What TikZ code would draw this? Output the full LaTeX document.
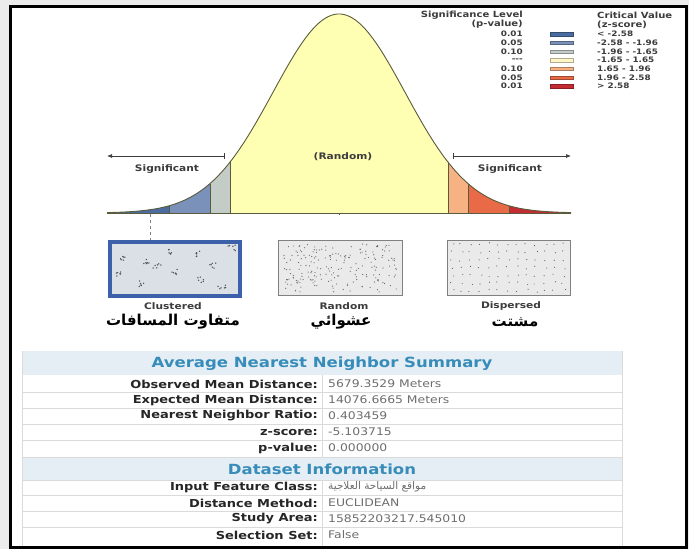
\documentclass[tikz,border=0pt]{standalone}
\usepackage{fontspec}
\setmainfont{DejaVu Sans}[FakeStretch=1.18]
\newfontfamily\arabicfont[Script=Arabic]{DejaVu Sans}
\TeXXeTstate=1
\usetikzlibrary{arrows.meta}

\definecolor{bellyellow}{RGB}{255,255,180}
\definecolor{sigblueA}{RGB}{74,108,160}
\definecolor{sigblueB}{RGB}{122,146,186}
\definecolor{sigblueC}{RGB}{196,204,200}
\definecolor{sigredC}{RGB}{246,178,130}
\definecolor{sigredB}{RGB}{232,106,70}
\definecolor{sigredA}{RGB}{196,44,52}
\definecolor{paleyellow}{RGB}{255,246,200}
\definecolor{curvegray}{RGB}{90,90,60}
\definecolor{headblue}{RGB}{228,238,244}
\definecolor{headtext}{RGB}{55,140,185}
\definecolor{valgray}{RGB}{110,110,110}
\definecolor{labgray}{RGB}{60,60,60}
\definecolor{linegray}{RGB}{218,218,218}
\definecolor{outergray}{RGB}{236,236,236}
\definecolor{clublue}{RGB}{60,96,170}
\definecolor{clufill}{RGB}{218,224,230}
\definecolor{boxgray}{RGB}{234,234,234}

\tikzset{
  curveline/.style={draw=curvegray, line width=0.9pt},
  smalllabel/.style={font=\bfseries\fontsize{9}{10}\selectfont, text=labgray, inner sep=0pt},
  legendtext/.style={font=\bfseries\fontsize{8.5}{9}\selectfont, text=labgray, inner sep=0pt},
  legendrow/.style={font=\bfseries\fontsize{7.5}{8}\selectfont, text=labgray, inner sep=0pt},
  arabiclabel/.style={font=\arabicfont\bfseries\fontsize{15}{17}\selectfont, inner sep=0pt},
  pattbox/.style={draw=gray, fill=boxgray, line width=1pt,
    minimum width=124pt, minimum height=55pt, inner sep=0pt},
  headrow/.style={font=\bfseries\fontsize{14}{16}\selectfont, text=headtext, inner sep=0pt},
  rowlabel/.style={font=\bfseries\fontsize{11}{13}\selectfont, text=black!85, anchor=east, inner sep=0pt},
  rowvalue/.style={font=\fontsize{10.5}{12}\selectfont, text=valgray, anchor=west, inner sep=0pt}
}

\begin{document}
\begin{tikzpicture}[x=1pt,y=-1pt,
  declare function={bell(\x)=213-199*exp(-0.5*((\x-339)/66)*((\x-339)/66));}]

\useasboundingbox (0,0) rectangle (689,549);
\fill[outergray] (0,0) rectangle (689,549);
\fill[white] (10,6) rectangle (686,547);

% Bell curve
\foreach \a/\b/\c in {107/169/sigblueA, 169/210/sigblueB, 210/230/sigblueC,
    230/448/bellyellow, 448/468/sigredC, 468/509/sigredB, 509/571/sigredA}
  \fill[\c] plot[domain=\a:\b, samples=40] (\x,{bell(\x)}) |- (\a,213) -- cycle;
\foreach \b in {169,210,468,509}
  \draw[curveline, line width=0.5pt] (\b,213) -- (\b,{bell(\b)});
\foreach \b in {230,448}
  \draw[curveline] (\b,213) -- (\b,{bell(\b)});
\draw[curveline] plot[domain=107:571, samples=150] (\x,{bell(\x)});
\coordinate (base-l) at (107,213);
\coordinate (base-r) at (571,213);
\draw[curveline] (base-l) -- (base-r);
\coordinate (mid) at (339,213);
\draw[curveline, line width=0.5pt] (mid) -- ++(0,2);

% Significant arrows
\coordinate (sigL-tip) at (107,156);
\coordinate (sigL-bar) at (225,156);
\coordinate (sigR-bar) at (453,156);
\coordinate (sigR-tip) at (571,156);
\draw[labgray, line width=0.7pt, {Latex[length=5pt,width=4pt]}-{Bar[width=6pt]}] (sigL-tip) -- (sigL-bar);
\draw[labgray, line width=0.7pt, {Bar[width=6pt]}-{Latex[length=5pt,width=4pt]}] (sigR-bar) -- (sigR-tip);
\node[smalllabel] (sigL) at (167,169) {Significant};
\node[smalllabel] (sigR) at (510,169) {Significant};
\node[smalllabel] (rnd) at (343,157) {(Random)};

% Legend
\node[legendtext, anchor=east] (lvl) at (523,15) {Significance Level};
\node[legendtext, anchor=east] (pval) at (523,24.5) {(p-value)};
\node[legendtext, anchor=west] (crit) at (597,15) {Critical Value};
\node[legendtext, anchor=west] (zsc) at (597,24.5) {(z-score)};
\foreach \p/\z/\c [count=\i from 0] in {0.01/{< -2.58}/sigblueA, 0.05/{-2.58 - -1.96}/sigblueB,
    0.10/{-1.96 - -1.65}/sigblueC, {-{}-{}-}/{-1.65 - 1.65}/paleyellow, 0.10/{1.65 - 1.96}/sigredC,
    0.05/{1.96 - 2.58}/sigredB, 0.01/{> 2.58}/sigredA} {
  \node[legendrow, anchor=east] (p-\i) at (523,{34+8.7*\i}) {\p};
  \node[legendrow, anchor=west] (z-\i) at (597,{34+8.7*\i}) {\z};
  \fill[\c, draw=\c!70!black, line width=0.3pt] (550,{32.3+8.7*\i}) rectangle (573,{35.7+8.7*\i});
}

% Point patterns
\node[draw=clublue, fill=clufill, line width=4pt, minimum width=130pt,
  minimum height=54pt, inner sep=0pt] (clu) at (175,268.5) {};
\node[pattbox] (ran) at (340,268) {};
\node[pattbox, minimum width=123pt] (dis) at (508.5,268) {};
\coordinate (tick) at (150,214);
\draw[gray, dashed, line width=0.8pt] (tick) -- (tick |- clu.north);
\pgfmathsetseed{11}
\foreach \cx/\cy in {122/258, 145/262, 168/252, 196/254, 232/248, 176/272, 200/280,
    140/284, 222/286, 118/275, 157/266, 212/266}
  \foreach \k in {1,...,6}
    \fill[black!70] ({\cx+4*rand},{\cy+3*rand}) circle (0.75);
\foreach \k in {1,...,200}
  \fill[black!60] ({340+58*rand},{268+24*rand}) circle (0.6);
\foreach \i in {0,...,12}
  \foreach \j in {0,...,6}
    \fill[black!60] ({452+9.3*\i+2*rand},{244+7.8*\j+1.5*rand}) circle (0.6);
\node[smalllabel] (clu-en) at (173,306.5) {Clustered};
\node[smalllabel] (ran-en) at (344,306.5) {Random};
\node[smalllabel] (dis-en) at (511,306.5) {Dispersed};
\node[arabiclabel] (clu-ar) at (173,322) {\beginR متفاوت المسافات\endR};
\node[arabiclabel] (ran-ar) at (341,322) {\beginR عشوائي\endR};
\node[arabiclabel] (dis-ar) at (515,322) {\beginR مشتت\endR};

% Summary table
\fill[headblue] (22,351) rectangle (622,375);
\fill[headblue] (22,457) rectangle (622,480);
\foreach \y in {392,408,424,440,457,480,495,511,527}
  \draw[linegray, line width=0.8pt] (22,\y) -- (622,\y);
\draw[linegray, line width=1pt] (22,351) -- (22,547);
\draw[linegray, line width=1pt] (622,351) -- (622,547);
\draw[linegray, line width=0.8pt] (322,375) -- (322,457);
\draw[linegray, line width=0.8pt] (322,480) -- (322,547);
\node[headrow] (sum-head) at (322,364) {Average Nearest Neighbor Summary};
\node[headrow] (ds-head) at (322,469) {Dataset Information};
\foreach \lab/\val/\y [count=\i] in {Observed Mean Distance:/5679.3529 Meters/384,
    Expected Mean Distance:/14076.6665 Meters/400, Nearest Neighbor Ratio:/0.403459/416,
    z-score:/-5.103715/432, p-value:/0.000000/448,
    Input Feature Class:/{{\arabicfont\beginR مواقع السياحة العلاجية\endR}}/487,
    Distance Method:/EUCLIDEAN/503, Study Area:/15852203217.545010/519,
    Selection Set:/False/535} {
  \node[rowlabel] (lab-\i) at (318,\y) {\lab};
  \node[rowvalue] (val-\i) at (328,\y) {\val};
}

% Frame
\draw[black, line width=3pt] (10,6) rectangle (686,547);

\end{tikzpicture}
\end{document}
